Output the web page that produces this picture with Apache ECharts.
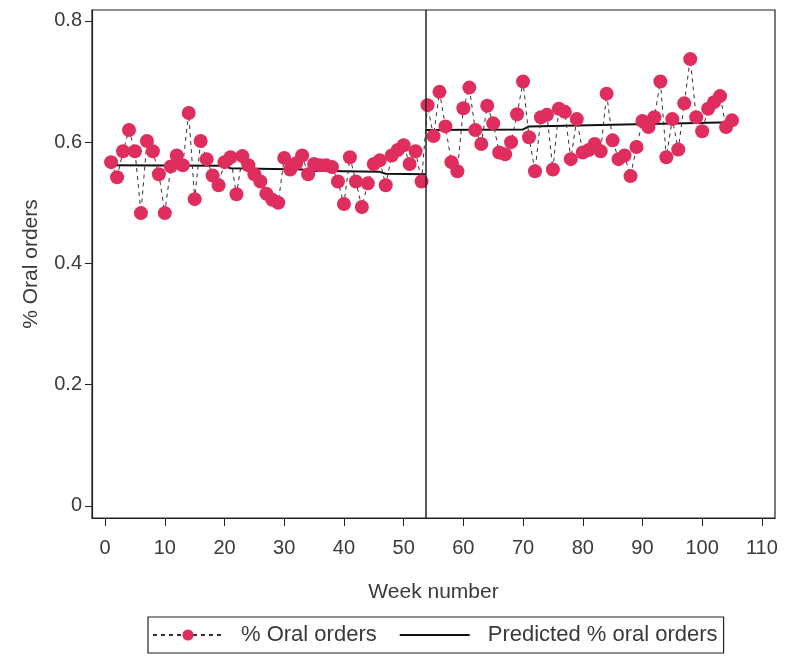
<!DOCTYPE html>
<html>
<head>
<meta charset="utf-8">
<script src="https://cdn.jsdelivr.net/npm/echarts@6/dist/echarts.min.js"></script>
<style>
  html, body { margin: 0; padding: 0; background: #fff; }
  #chart { width: 787px; height: 664px; }
</style>
</head>
<body>
<div id="chart"></div>
<script>
// weekly % oral orders
const preValues = [
  0.567, 0.542, 0.585, 0.620, 0.585, 0.483, 0.602, 0.585, 0.547, 0.483,
  0.560, 0.578, 0.562, 0.648, 0.506, 0.602, 0.572, 0.545, 0.529, 0.567,
  0.575, 0.514, 0.577, 0.562, 0.547, 0.535, 0.515, 0.505, 0.500, 0.574,
  0.555, 0.565, 0.578, 0.547, 0.564, 0.562, 0.562, 0.559, 0.535, 0.498,
  0.575, 0.535, 0.493, 0.532, 0.564, 0.570, 0.529, 0.578, 0.587, 0.595,
  0.564, 0.585, 0.535
];
const postValues = [
  0.661, 0.610, 0.683, 0.626, 0.567, 0.552, 0.656, 0.690, 0.620, 0.597,
  0.660, 0.631, 0.583, 0.580, 0.600, 0.646, 0.700, 0.608, 0.552, 0.641,
  0.645, 0.555, 0.655, 0.650, 0.572, 0.638, 0.583, 0.587, 0.597, 0.585,
  0.680, 0.603, 0.572, 0.578, 0.544, 0.592, 0.635, 0.625, 0.641, 0.700,
  0.575, 0.638, 0.588, 0.664, 0.737, 0.641, 0.618, 0.655, 0.666, 0.676,
  0.625, 0.636
];

// predicted (segmented regression) - breakpoints, null splits pre/post
const predWeeks  = [1, 20, 21, 33, 34, 46, 47, 53.7, 53.7, 53.7, 70, 71, 105];
const predValues = [0.562, 0.561, 0.557, 0.555, 0.553, 0.551, 0.548, 0.547, null, 0.620, 0.621, 0.626, 0.633];

const interventionWeek = 53.7;

const xTicks = [0, 10, 20, 30, 40, 50, 60, 70, 80, 90, 100, 110];
const yTicks = [0, 0.2, 0.4, 0.6, 0.8];

const observed = preValues.concat(postValues).map((v, i) => [i + 1, v]);
const predicted = predWeeks.map((w, i) => [w, predValues[i]]);

const FONT = "'Liberation Sans Narrow', 'Liberation Sans', Arial, sans-serif";
const TXT = '#3a3a3a';

const chart = echarts.init(document.getElementById('chart'));

const option = {
  backgroundColor: '#fff',
  animation: false,
  textStyle: { fontFamily: FONT },
  grid: {
    left: 92, top: 10, right: 12, bottom: 146,
    show: true, borderColor: '#222', borderWidth: 1.2,
    containLabel: false
  },
  legend: {
    left: 148, top: 617,
    padding: [7, 6, 7, 4],
    borderColor: '#222', borderWidth: 1.2,
    itemWidth: 70, itemHeight: 14, itemGap: 22,
    textStyle: { fontSize: 22, color: TXT, fontFamily: FONT, padding: [0, 0, 0, 13] },
    data: [
      { name: '% Oral orders' },
      { name: 'Predicted % oral orders', itemStyle: { opacity: 0 } }
    ]
  },
  xAxis: {
    type: 'value',
    min: -2.2, max: 112.2,
    name: 'Week number',
    nameLocation: 'middle',
    nameGap: 64,
    nameTextStyle: { fontSize: 21, color: TXT, fontFamily: FONT },
    axisLine: { show: true, onZero: false, lineStyle: { color: '#222', width: 1.2 } },
    axisTick: { show: true, customValues: xTicks, length: 8, inside: false, lineStyle: { color: '#222' } },
    axisLabel: { customValues: xTicks, fontSize: 20, color: TXT, margin: 20, fontFamily: FONT },
    splitLine: { show: false }
  },
  yAxis: {
    type: 'value',
    min: -0.02, max: 0.818,
    name: '% Oral orders',
    nameLocation: 'middle',
    nameGap: 50,
    nameRotate: 90,
    nameTextStyle: { fontSize: 21, color: TXT, fontFamily: FONT },
    axisLine: { show: true, onZero: false, lineStyle: { color: '#222', width: 1.2 } },
    axisTick: { show: true, customValues: yTicks, length: 7, lineStyle: { color: '#222' } },
    axisLabel: {
      customValues: yTicks, fontSize: 20, color: TXT, margin: 10, fontFamily: FONT,
      formatter: v => (v === 0 ? '0' : v.toFixed(1))
    },
    splitLine: { show: false }
  },
  series: [
    {
      name: 'Predicted % oral orders',
      type: 'line',
      data: predicted,
      showSymbol: false,
      symbol: 'none',
      connectNulls: false,
      lineStyle: { color: '#111', width: 2 },
      itemStyle: { color: '#111' },
      z: 2,
      markLine: {
        silent: true,
        symbol: 'none',
        label: { show: false },
        lineStyle: { color: '#222', width: 1.5, type: 'solid' },
        data: [{ xAxis: interventionWeek }]
      }
    },
    {
      name: '% Oral orders',
      type: 'line',
      data: observed,
      symbol: 'circle',
      symbolSize: 14,
      lineStyle: { color: '#333', width: 1, type: [4, 4] },
      itemStyle: { color: '#df2d5e' },
      z: 3
    }
  ]
};

chart.setOption(option);
</script>
</body>
</html>
